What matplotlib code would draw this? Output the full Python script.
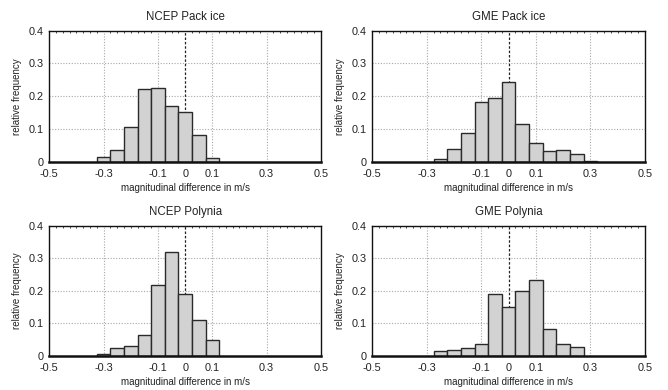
import matplotlib
matplotlib.use("Agg")
import matplotlib.pyplot as plt
import numpy as np

plt.rcParams['font.family'] = ['Liberation Sans', 'DejaVu Sans']

titles = ["NCEP Pack ice", "GME Pack ice", "NCEP Polynia", "GME Polynia"]

ncep_pack_x = [-0.3, -0.25, -0.2, -0.15, -0.1, -0.05, 0.0, 0.05, 0.1]
ncep_pack_y = [0.013, 0.035, 0.105, 0.221, 0.224, 0.170, 0.152, 0.083, 0.012]

gme_pack_x = [-0.25, -0.2, -0.15, -0.1, -0.05, 0.0, 0.05, 0.1, 0.15, 0.2, 0.25, 0.3]
gme_pack_y = [0.007, 0.038, 0.087, 0.183, 0.193, 0.243, 0.114, 0.058, 0.034, 0.035, 0.023, 0.003]

ncep_poly_x = [-0.3, -0.25, -0.2, -0.15, -0.1, -0.05, 0.0, 0.05, 0.1]
ncep_poly_y = [0.006, 0.023, 0.030, 0.063, 0.219, 0.320, 0.190, 0.111, 0.049]

gme_poly_x = [-0.25, -0.2, -0.15, -0.1, -0.05, 0.0, 0.05, 0.1, 0.15, 0.2, 0.25]
gme_poly_y = [0.016, 0.019, 0.023, 0.037, 0.189, 0.150, 0.200, 0.233, 0.082, 0.035, 0.028]

xticks = [-0.5, -0.3, -0.1, 0, 0.1, 0.3, 0.5]
xtick_labels = ["-0.5", "-0.3", "-0.1", "0", "0.1", "0.3", "0.5"]
yticks = [0, 0.1, 0.2, 0.3, 0.4]
ytick_labels = ["0", "0.1", "0.2", "0.3", "0.4"]

data = [(ncep_pack_x, ncep_pack_y), (gme_pack_x, gme_pack_y),
        (ncep_poly_x, ncep_poly_y), (gme_poly_x, gme_poly_y)]

fig = plt.figure(figsize=(6.68, 3.90), dpi=100)
W, H = 668, 390
boxes = [
    (49.3, 30.7, 321.0, 161.7),
    (372.3, 30.7, 645.0, 161.7),
    (49.3, 225.7, 321.0, 355.7),
    (372.3, 225.7, 645.0, 355.7),
]

for (x, y), title, (l, t, r, b) in zip(data, titles, boxes):
    ax = fig.add_axes([l / W, 1 - b / H, (r - l) / W, (b - t) / H])
    ax.set_xlim(-0.5, 0.5)
    ax.set_ylim(0, 0.4)
    for gx in [-0.3, -0.1, 0.1, 0.3]:
        ax.axvline(gx, color='#a8a8a8', lw=0.8, ls=(0, (1, 1.5)), zorder=1)
    for gy in [0.1, 0.2, 0.3]:
        ax.axhline(gy, color='#a8a8a8', lw=0.8, ls=(0, (1, 1.5)), zorder=1)
    ax.axvline(0, color='#222222', lw=0.9, ls=(0, (2, 1.5)), zorder=1)
    ax.bar(x, y, width=0.05, color='#d2d2d2', edgecolor='#2a2a2a', linewidth=1.0, zorder=2)
    ax.set_xticks(xticks)
    ax.set_xticklabels(xtick_labels)
    ax.set_yticks(yticks)
    ax.set_yticklabels(ytick_labels)
    ax.tick_params(axis='both', labelsize=7.8, length=0, colors='#222222')
    ax.tick_params(axis='x', pad=5)
    ax.tick_params(axis='y', pad=4)
    ax.set_xticks(np.arange(-0.5, 0.5001, 0.025), minor=True)
    ax.tick_params(axis='x', which='minor', direction='in', length=1.5, top=True, bottom=False, width=0.5)
    for side in ['left', 'right', 'top']:
        ax.spines[side].set_linewidth(1.0)
        ax.spines[side].set_color('#111111')
    ax.spines['bottom'].set_linewidth(1.8)
    ax.spines['bottom'].set_color('#111111')
    ax.set_title(title, fontsize=8.3, pad=8, color='#222222')
    ax.set_xlabel("magnitudinal difference in m/s", fontsize=7.0, labelpad=3, color='#222222')
    ax.set_ylabel("relative frequency", fontsize=7.0, labelpad=5, color='#222222')

fig.savefig("out.png", dpi=100)
